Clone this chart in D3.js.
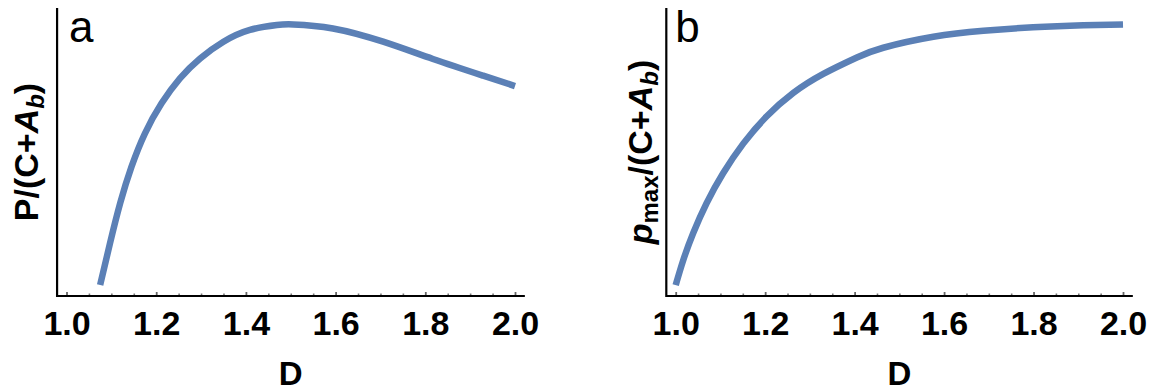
<!DOCTYPE html>
<html><head><meta charset="utf-8">
<script src="https://cdn.jsdelivr.net/npm/d3@7"></script>
<style>
body{margin:0;background:#fff;}
svg{display:block;}
.tick text{font-family:"Liberation Sans",Arial,sans-serif;font-weight:bold;font-size:34px;fill:#000;}
</style></head>
<body>
<svg id="c" width="1153" height="392"></svg>
<script>
// Panel a: P/(C+A_b) vs D
const dA = [1.075,1.097,1.120,1.145,1.175,1.212,1.253,1.298,1.350,1.409,1.469,1.506,1.594,1.706,1.817,1.929,2.0];
const yA = [0.038,0.183,0.324,0.449,0.565,0.669,0.756,0.825,0.883,0.924,0.941,0.943,0.929,0.883,0.823,0.765,0.729];
// Panel b: p_max/(C+A_b) vs D
const dB = [1.0,1.017,1.039,1.069,1.106,1.151,1.203,1.263,1.330,1.405,1.464,1.576,1.688,1.799,1.911,2.0];
const yB = [0.038,0.125,0.218,0.322,0.426,0.529,0.623,0.705,0.771,0.828,0.862,0.900,0.921,0.933,0.940,0.943];
const majorTicks = [1.0,1.2,1.4,1.6,1.8,2.0];
const minorTicks = [1.05,1.1,1.15,1.25,1.3,1.35,1.45,1.5,1.55,1.65,1.7,1.75,1.85,1.9,1.95];
const xExtent = [0.979, 2.022];
const yExtent = [0, 1];

const svg = d3.select("#c");
const blue = "#5b80b6";

function panel(cfg){
  const x = d3.scaleLinear().domain([1,2]).range(cfg.xr);
  const y = d3.scaleLinear().domain(yExtent).range([296, 8]);
  const g = svg.append("g");
  // minor ticks
  g.append("g").attr("transform","translate(0,296)")
    .call(d3.axisBottom(x).tickValues(minorTicks).tickSize(-2.5).tickFormat(""))
    .call(s=>{s.select(".domain").remove();s.selectAll("line").attr("stroke","#777").attr("stroke-width",1.6);});
  // major ticks
  g.append("g").attr("transform","translate(0,296)")
    .call(d3.axisBottom(x).tickValues(majorTicks).tickSize(-4).tickPadding(15).tickFormat(d3.format(".1f")))
    .call(s=>{s.select(".domain").remove();s.selectAll("line").attr("stroke","#666").attr("stroke-width",1.8);});
  // axis lines
  g.append("line").attr("x1",x(xExtent[0])).attr("x2",x(xExtent[1])).attr("y1",y(0)).attr("y2",y(0))
    .attr("stroke","#000").attr("stroke-width",2.2);
  g.append("line").attr("x1",x(xExtent[0])).attr("x2",x(xExtent[0])).attr("y1",y(0)+1.1).attr("y2",y(1))
    .attr("stroke","#000").attr("stroke-width",2.2);
  // curve
  const line = d3.line().x(d=>x(d[0])).y(d=>y(d[1])).curve(d3.curveNatural);
  g.append("path").datum(cfg.d.map((v,i)=>[v,cfg.y[i]]))
    .attr("d",line).attr("fill","none").attr("stroke",blue).attr("stroke-width",6.5);
  // panel letter
  g.append("text").attr("x",x(xExtent[0])+cfg.lx).attr("y",42)
    .attr("font-family","'Liberation Sans',Arial,sans-serif").attr("font-size",44).text(cfg.letter);
  // x label
  g.append("text").attr("x",(x(1)+x(2))/2).attr("y",385).attr("text-anchor","middle")
    .attr("font-family","'Liberation Sans',Arial,sans-serif").attr("font-weight","bold").attr("font-size",33).text("D");
  // y label
  const t = g.append("text").attr("transform",`translate(${cfg.ylx},152) rotate(-90)`).attr("text-anchor","middle")
    .attr("font-family","'Liberation Sans',Arial,sans-serif").attr("font-weight","bold").attr("font-size",34);
  cfg.ylab(t);
}

panel({xr:[66.5,515], d:dA, y:yA, letter:"a", lx:12, ylx:38, ylab:t=>{
  t.append("tspan").text("P/(C+");
  t.append("tspan").attr("font-style","italic").text("A");
  t.append("tspan").attr("font-style","italic").attr("font-size",24).attr("dy",6).text("b");
  t.append("tspan").attr("dy",-6).text(")");
}});
panel({xr:[675.7,1123], d:dB, y:yB, letter:"b", lx:9, ylx:652, ylab:t=>{
  t.append("tspan").attr("font-style","italic").text("p");
  t.append("tspan").attr("font-size",24).attr("dy",6).text("max");
  t.append("tspan").attr("dy",-6).text("/(C+");
  t.append("tspan").attr("font-style","italic").text("A");
  t.append("tspan").attr("font-style","italic").attr("font-size",24).attr("dy",6).text("b");
  t.append("tspan").attr("dy",-6).text(")");
}});
</script>
</body></html>
